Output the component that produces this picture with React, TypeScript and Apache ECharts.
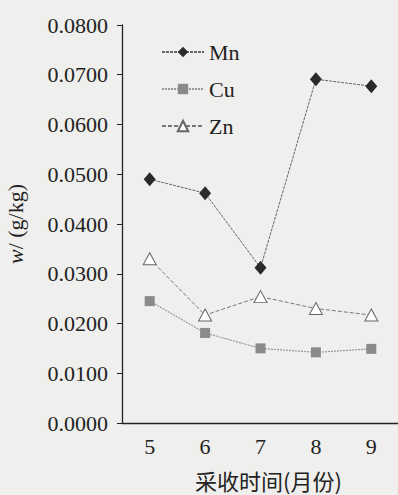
import React, { useEffect, useRef } from "react";
import * as echarts from "echarts";

const months = ["5", "6", "7", "8", "9"];
const mnValues = [0.049, 0.0462, 0.0312, 0.0691, 0.0677];
const cuValues = [0.0245, 0.0181, 0.015, 0.0142, 0.0149];
const znValues = [0.033, 0.0217, 0.0254, 0.023, 0.0217];
const yTicks = { min: 0, max: 0.08, interval: 0.01 };

const FONT = "Liberation Serif, Times New Roman, Times, serif";
const CJK = "Noto Sans CJK SC, sans-serif";

export default function App() {
  const ref = useRef<HTMLDivElement>(null);
  useEffect(() => {
    if (!ref.current) return;
    const chart = echarts.init(ref.current, null, { renderer: "svg" });
    chart.setOption({
      animation: false,
      backgroundColor: "#efefed",
      grid: {
        left: 122,
        right: -1,
        top: 25,
        bottom: 72,
        containLabel: false,
        outerBoundsMode: "none",
      },
      legend: {
        orient: "vertical",
        left: 156,
        top: 36,
        itemWidth: 42,
        itemHeight: 13,
        itemGap: 15,
        textStyle: { fontFamily: FONT, fontSize: 22, color: "#222" },
        data: ["Mn", "Cu", "Zn"],
      },
      xAxis: {
        type: "category",
        data: months,
        boundaryGap: true,
        name: "采收时间(月份)",
        nameLocation: "middle",
        nameGap: 46,
        nameTextStyle: { fontFamily: CJK, fontSize: 22, color: "#222", padding: [0, 0, 0, 16] },
        axisLine: { lineStyle: { color: "#222", width: 1.3 } },
        axisTick: { inside: true, length: 5, lineStyle: { color: "#222" } },
        axisLabel: { fontFamily: FONT, fontSize: 22, color: "#222", margin: 12 },
      },
      yAxis: {
        type: "value",
        min: yTicks.min,
        max: yTicks.max,
        interval: yTicks.interval,
        name: "{i|w}/ (g/kg)",
        nameLocation: "middle",
        nameGap: 96,
        nameRotate: 90,
        nameTextStyle: {
          fontFamily: FONT,
          fontSize: 22,
          color: "#222",
          rich: { i: { fontFamily: FONT, fontSize: 22, fontStyle: "italic", color: "#222" } },
        },
        splitLine: { show: false },
        axisLine: { show: true, lineStyle: { color: "#222", width: 1.3 } },
        axisTick: { show: true, inside: false, length: 5, lineStyle: { color: "#222" } },
        axisLabel: {
          fontFamily: FONT,
          fontSize: 22,
          color: "#222",
          margin: 14,
          formatter: (v: number) => v.toFixed(4),
        },
      },
      series: [
        {
          name: "Mn",
          type: "line",
          data: mnValues,
          symbol: "diamond",
          symbolSize: [12, 14],
          itemStyle: { color: "#2a2a2a" },
          lineStyle: { color: "#666", width: 1, type: [3, 1] },
        },
        {
          name: "Cu",
          type: "line",
          data: cuValues,
          symbol: "rect",
          symbolSize: 10,
          itemStyle: { color: "#8a8a8a" },
          lineStyle: { color: "#999", width: 1.2, type: [2, 1] },
        },
        {
          name: "Zn",
          type: "line",
          data: znValues,
          symbol: "triangle",
          symbolSize: [13, 12],
          itemStyle: { color: "#ffffff", borderColor: "#666", borderWidth: 1 },
          lineStyle: { color: "#777", width: 1, type: [4, 2] },
        },
      ],
    });
    return () => chart.dispose();
  }, []);
  return (
    <div
      ref={ref}
      style={{ position: "fixed", left: 0, top: 0, width: 398, height: 495 }}
    />
  );
}
